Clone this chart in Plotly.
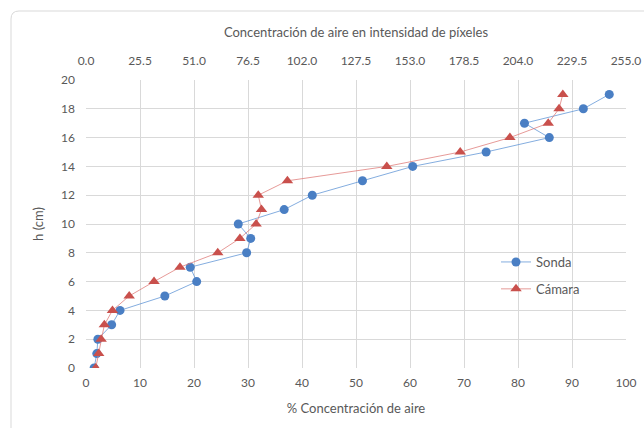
import plotly.graph_objects as go

h = list(range(20))
sonda = [1.5, 2.0, 2.2, 4.75, 6.3, 14.6, 20.5, 19.3, 29.75, 30.5, 28.2, 36.7, 41.9, 51.2, 60.5, 74.1, 85.8, 81.2, 92.1, 96.9]
camara = [1.8, 2.35, 2.8, 3.4, 4.9, 8.0, 12.6, 17.4, 24.4, 28.5, 31.5, 32.5, 31.9, 37.3, 55.7, 69.3, 78.5, 85.6, 87.6, 88.3]
top_ticks = [0.0, 25.5, 51.0, 76.5, 102.0, 127.5, 153.0, 178.5, 204.0, 229.5, 255.0]
top_labels = [f"{v:.1f}" for v in top_ticks]

FONT = "Lato"
GRAY = "#595959"
GRID = "#d9d9d9"

fig = go.Figure()
fig.add_trace(go.Scatter(
    x=sonda, y=h, name="Sonda", mode="lines+markers",
    line=dict(color="rgba(91,146,212,0.75)", width=1),
    marker=dict(color="#4a7fc4", size=9, symbol="circle"),
    legendgroup="a",
))
fig.add_trace(go.Scatter(
    x=camara, y=h, name="Cámara", mode="lines+markers",
    line=dict(color="rgba(222,120,118,0.75)", width=1),
    marker=dict(color="#c9504c", size=10, symbol="triangle-up"),
    legendgroup="b",
))
# helper (invisible) trace so the top pixel-intensity axis is drawn
fig.add_trace(go.Scatter(
    x=[top_ticks[0], top_ticks[-1]], y=[h[0], h[0]], xaxis="x2", yaxis="y",
    mode="markers", marker=dict(opacity=0), showlegend=False, hoverinfo="skip",
))

L, R, T, B = 86, 18, 80, 60
W, H = 644, 428
pw, ph = W - L - R, H - T - B
x0 = (11 - L) / pw
y1 = (H - B - 11) / ph
dx, dy = 8 / pw, 8 / ph
path = (f"M {x0},-0.4 L {x0},{y1-dy} Q {x0},{y1} {x0+dx},{y1} L 1.3,{y1}")

fig.update_layout(
    width=W, height=H,
    margin=dict(l=L, r=R, t=T, b=B, autoexpand=False),
    paper_bgcolor="white", plot_bgcolor="white",
    font=dict(family=FONT, size=12, color=GRAY),
    showlegend=True,
    legend=dict(x=(496 - L) / pw, y=(368 - 247) / ph, xanchor="left", yanchor="top",
                bgcolor="rgba(0,0,0,0)", font=dict(size=13, color=GRAY),
                traceorder="grouped", tracegroupgap=7),
    xaxis=dict(range=[0, 100], dtick=10, showgrid=True, gridcolor=GRID, gridwidth=1,
               zeroline=False, showline=False, ticks="", automargin=False,
               title=dict(text="% Concentración de aire", standoff=14, font=dict(size=13, color=GRAY)),
               tickfont=dict(size=12, color=GRAY), ticklabelstandoff=6),
    xaxis2=dict(range=[0, 255], overlaying="x", side="top", anchor="y", automargin=False,
                tickmode="array", tickvals=top_ticks, ticktext=top_labels,
                showgrid=False, zeroline=False, showline=False, ticks="",
                title=dict(text="Concentración de aire en intensidad de píxeles", standoff=12,
                           font=dict(size=13, color=GRAY)),
                tickfont=dict(size=12, color=GRAY), ticklabelstandoff=12),
    yaxis=dict(range=[0, 20], dtick=2, showgrid=True, gridcolor=GRID, gridwidth=1,
               zeroline=False, showline=False, ticks="", automargin=False,
               title=dict(text="h (cm)", standoff=14, font=dict(size=13, color=GRAY)),
               tickfont=dict(size=12, color=GRAY), ticklabelstandoff=10),
    shapes=[dict(type="path", xref="paper", yref="paper", path=path,
                 line=dict(color="#d9d9d9", width=1), layer="below")],
)

fig.write_html("out.html")
